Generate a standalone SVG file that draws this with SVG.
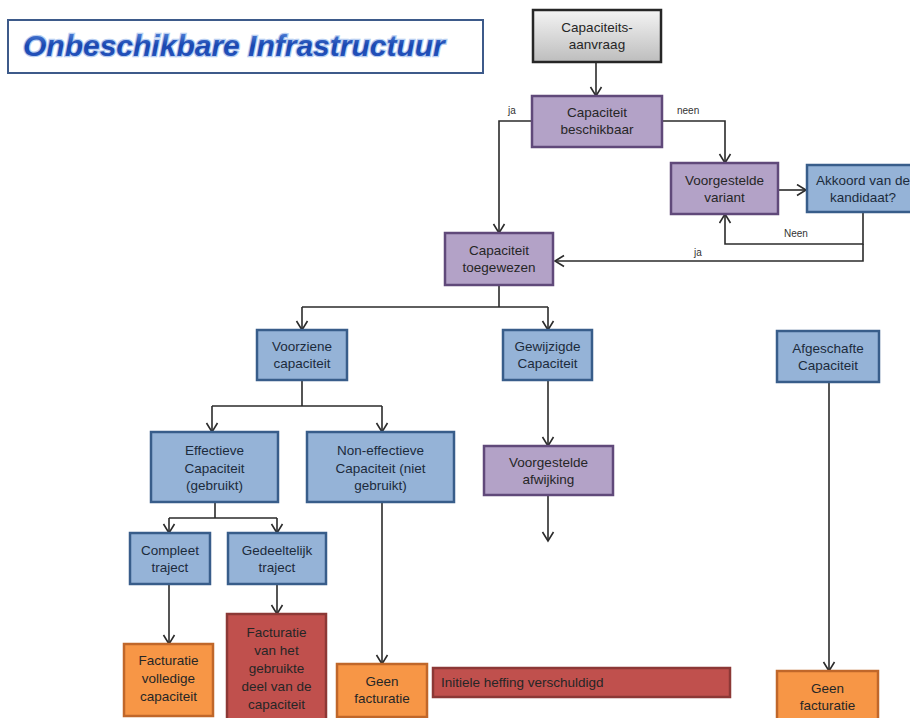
<svg xmlns="http://www.w3.org/2000/svg" width="910" height="718" viewBox="0 0 910 718">
<defs>
<linearGradient id="grey" x1="0" y1="0" x2="0" y2="1"><stop offset="0" stop-color="#f4f4f4"/><stop offset="1" stop-color="#bdbdbd"/></linearGradient>
<linearGradient id="tg" x1="0" y1="0" x2="0" y2="1"><stop offset="0" stop-color="#5a8de0"/><stop offset="0.5" stop-color="#1a47b0"/><stop offset="1" stop-color="#2857c0"/></linearGradient>
<marker id="ah" markerWidth="14" markerHeight="14" refX="10" refY="6.5" orient="auto" markerUnits="userSpaceOnUse"><path d="M1,1 L10,6.5 L1,12" fill="none" stroke="#2b2b2b" stroke-width="1.6"/></marker>
</defs>
<style>
.t{font-family:"Liberation Sans",Arial,sans-serif;font-size:13.5px;text-anchor:middle;fill:#262626}
.tb{fill:#1c2b3c}
.lbl{font-family:"Liberation Sans",Arial,sans-serif;font-size:10px;fill:#333}
.grey{fill:url(#grey);stroke:#262626;stroke-width:2.5}
.pur{fill:#b3a2c7;stroke:#60497a;stroke-width:2.5}
.blu{fill:#95b3d7;stroke:#385d8a;stroke-width:2.5}
.org{fill:#f79646;stroke:#c0672a;stroke-width:2.5}
.red{fill:#c0504d;stroke:#8c3836;stroke-width:2.5}
.c{fill:none;stroke:#2b2b2b;stroke-width:1.6}
.a{marker-end:url(#ah)}
</style>
<rect width="910" height="718" fill="#fff"/>
<g id="title">
<rect x="8" y="20" width="475" height="53" fill="#fff" stroke="#3d5a8a" stroke-width="2"/>
<text x="23" y="56" font-family="'Liberation Sans',Arial,sans-serif" font-size="30" font-weight="bold" font-style="italic" fill="url(#tg)" stroke="#b9cff2" stroke-width="2.5" paint-order="stroke">Onbeschikbare Infrastructuur</text>
</g>
<g id="connectors">
<path class="c a" d="M596,62 V96"/>
<path class="c a" d="M532,121 H499 V233"/>
<path class="c a" d="M662,121 H725 V163"/>
<path class="c a" d="M778,190 H806"/>
<path class="c a" d="M863,212 V244 H725 V214"/>
<path class="c a" d="M863,244 V261 H555"/>
<path class="c" d="M499,285 V307 M302,307 H548"/>
<path class="c a" d="M302,307 V330"/>
<path class="c a" d="M548,307 V330"/>
<path class="c" d="M302,380 V406 M212,406 H382"/>
<path class="c a" d="M212,406 V432"/>
<path class="c a" d="M382,406 V432"/>
<path class="c a" d="M548,380 V446"/>
<path class="c a" d="M548,495 V541"/>
<path class="c" d="M215,502 V518 M169,518 H277"/>
<path class="c a" d="M169,518 V533"/>
<path class="c a" d="M277,518 V533"/>
<path class="c a" d="M169,584 V644"/>
<path class="c a" d="M277,584 V614"/>
<path class="c a" d="M382,502 V664"/>
<path class="c a" d="M829,382 V671"/>
<text class="lbl" x="508" y="114">ja</text>
<text class="lbl" x="677" y="114">neen</text>
<text class="lbl" x="784" y="237">Neen</text>
<text class="lbl" x="694" y="256">ja</text>
</g>
<g id="aanvraag"><rect class="grey" x="533" y="10" width="128" height="52"/><text class="t" x="597" y="32">Capaciteits-</text><text class="t" x="597" y="49">aanvraag</text></g>
<g id="beschikbaar"><rect class="pur" x="532" y="96" width="130" height="51"/><text class="t" x="597" y="117">Capaciteit</text><text class="t" x="597" y="134">beschikbaar</text></g>
<g id="variant"><rect class="pur" x="671" y="163" width="107" height="51"/><text class="t" x="724.5" y="184.5">Voorgestelde</text><text class="t" x="724.5" y="201.5">variant</text></g>
<g id="akkoord"><rect class="blu" x="807" y="165" width="115" height="47"/><text class="t tb" x="863" y="184.5">Akkoord van de</text><text class="t tb" x="863" y="201.5">kandidaat?</text></g>
<g id="toegewezen"><rect class="pur" x="445" y="233" width="108" height="52"/><text class="t" x="499" y="255">Capaciteit</text><text class="t" x="499" y="272">toegewezen</text></g>
<g id="voorziene"><rect class="blu" x="257" y="330" width="90" height="50"/><text class="t tb" x="302" y="351">Voorziene</text><text class="t tb" x="302" y="368">capaciteit</text></g>
<g id="gewijzigde"><rect class="blu" x="503" y="330" width="89" height="50"/><text class="t tb" x="547.5" y="351">Gewijzigde</text><text class="t tb" x="547.5" y="368">Capaciteit</text></g>
<g id="afgeschafte"><rect class="blu" x="777" y="331" width="102" height="51"/><text class="t tb" x="828" y="352.5">Afgeschafte</text><text class="t tb" x="828" y="369.5">Capaciteit</text></g>
<g id="effectieve"><rect class="blu" x="151" y="432" width="127" height="70"/><text class="t tb" x="214.5" y="455">Effectieve</text><text class="t tb" x="214.5" y="472.5">Capaciteit</text><text class="t tb" x="214.5" y="490">(gebruikt)</text></g>
<g id="noneffectieve"><rect class="blu" x="307" y="432" width="147" height="70"/><text class="t tb" x="380.5" y="455">Non-effectieve</text><text class="t tb" x="380.5" y="472.5">Capaciteit (niet</text><text class="t tb" x="380.5" y="490">gebruikt)</text></g>
<g id="afwijking"><rect class="pur" x="484" y="446" width="129" height="49"/><text class="t" x="548.5" y="466.5">Voorgestelde</text><text class="t" x="548.5" y="483.5">afwijking</text></g>
<g id="compleet"><rect class="blu" x="130" y="533" width="80" height="51"/><text class="t tb" x="170" y="554.5">Compleet</text><text class="t tb" x="170" y="571.5">traject</text></g>
<g id="gedeeltelijk"><rect class="blu" x="228" y="533" width="98" height="51"/><text class="t tb" x="277" y="554.5">Gedeeltelijk</text><text class="t tb" x="277" y="571.5">traject</text></g>
<g id="fact_volledig"><rect class="org" x="124" y="644" width="89" height="72"/><text class="t" x="168.5" y="665">Facturatie</text><text class="t" x="168.5" y="683">volledige</text><text class="t" x="168.5" y="701">capaciteit</text></g>
<g id="fact_deel"><rect class="red" x="227" y="614" width="99" height="110"/><text class="t" x="276.5" y="637">Facturatie</text><text class="t" x="276.5" y="655">van het</text><text class="t" x="276.5" y="673">gebruikte</text><text class="t" x="276.5" y="691">deel van de</text><text class="t" x="276.5" y="709">capaciteit</text></g>
<g id="geen1"><rect class="org" x="337" y="664" width="90" height="53"/><text class="t" x="382" y="686">Geen</text><text class="t" x="382" y="703">facturatie</text></g>
<g id="heffing"><rect class="red" x="433" y="668" width="297" height="29"/><text class="t" x="441" y="687" style="text-anchor:start">Initiele heffing verschuldigd</text></g>
<g id="geen2"><rect class="org" x="777" y="671" width="101" height="55"/><text class="t" x="827.5" y="693">Geen</text><text class="t" x="827.5" y="710">facturatie</text></g>
</svg>
